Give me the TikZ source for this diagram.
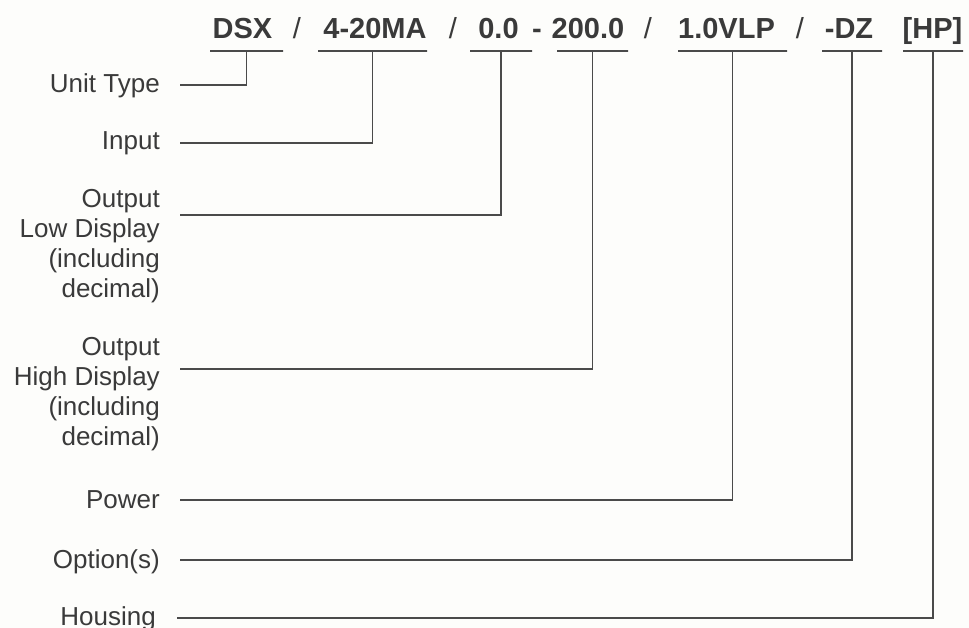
\documentclass[tikz,border=0pt]{standalone}
\usepackage{fontspec}
\setmainfont{Liberation Sans}
\definecolor{ink}{HTML}{3A3A3A}
\definecolor{wire}{HTML}{4A4A4A}
\definecolor{bg}{HTML}{FDFDFB}
\begin{document}
\begin{tikzpicture}[x=1pt,y=-1pt,
  code/.style={font=\bfseries\fontsize{29}{34}\selectfont, text=ink, inner sep=0pt, anchor=base},
  sep/.style={font=\fontsize{29}{34}\selectfont, text=ink, inner sep=0pt, anchor=base},
  uline/.style={draw=wire, line width=1.6pt, inner sep=0pt, minimum height=0pt},
  lbl/.style={font=\fontsize{26}{30}\selectfont, text=ink, inner sep=0pt, align=right, anchor=base east},
  conn/.style={draw=wire, line width=1.6pt}]
\useasboundingbox (0,0) rectangle (969,628);
\fill[bg] (0,0) rectangle (969,628);
% code string
\node[code] (dsx) at (242.5,39) {DSX};
\node[sep]  (s1)  at (297,39) {/};
\node[code] (inp) at (375,39) {4-20MA};
\node[sep]  (s2)  at (453,39) {/};
\node[code] (lo)  at (498.5,39) {0.0};
\node[code] (dash) at (537,39) {-};
\node[code] (hi)  at (588,39) {200.0};
\node[sep]  (s3)  at (648,39) {/};
\node[code] (pw)  at (726.5,39) {1.0VLP};
\node[sep]  (s4)  at (800,39) {/};
\node[code] (opt) at (849,39) {-DZ};
\node[code] (hp)  at (932.5,39) {[HP]};
% underlines
\node[uline, minimum width=73]  (dsxU) at (246.5,51) {};
\node[uline, minimum width=109] (inpU) at (372.5,51) {};
\node[uline, minimum width=62]  (loU)  at (501,51) {};
\node[uline, minimum width=71]  (hiU)  at (592.5,51) {};
\node[uline, minimum width=109] (pwU)  at (732.5,51) {};
\node[uline, minimum width=60]  (optU) at (852,51) {};
\node[uline, minimum width=60]  (hpU)  at (933,51) {};
% labels (base anchor = baseline of the last line)
\node[lbl] (unit)    at (160,93)  {Unit Type};
\node[lbl] (input)   at (160,150) {Input};
\node[lbl] (lowd)    at (160,298) {Output\\Low Display\\(including\\decimal)};
\node[lbl] (highd)   at (160,445) {Output\\High Display\\(including\\decimal)};
\node[lbl] (power)   at (160,508) {Power};
\node[lbl] (option)  at (160,568) {Option(s)};
\node[lbl] (housing) at (156,625) {Housing};
% connectors
\draw[conn] ([xshift=20pt,yshift=8pt]unit.base east) -| (dsxU.center);
\draw[conn] ([xshift=20pt,yshift=7pt]input.base east) -| (inpU.center);
\draw[conn] ([xshift=20pt,yshift=83pt]lowd.base east) -| (loU.center);
\draw[conn] ([xshift=20pt,yshift=76pt]highd.base east) -| (hiU.center);
\draw[conn] ([xshift=20pt,yshift=8pt]power.base east) -| (pwU.center);
\draw[conn] ([xshift=20pt,yshift=8pt]option.base east) -| (optU.center);
\draw[conn] ([xshift=21pt,yshift=7pt]housing.base east) -| (hpU.center);
\end{tikzpicture}
\end{document}
